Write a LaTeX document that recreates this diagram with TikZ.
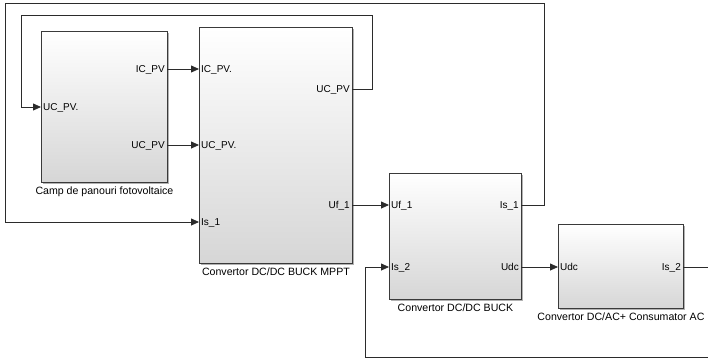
\documentclass[tikz,border=0pt]{standalone}
\usepackage{fontspec}
\setmainfont{Liberation Sans}
\definecolor{blkEdge}{HTML}{3A3A3A}
\definecolor{blkShade}{HTML}{D6D6D6}
\definecolor{wireGray}{HTML}{2B2B2B}
\usepackage{tikz}
\usetikzlibrary{positioning,arrows.meta,shadows}

\begin{document}
\begin{tikzpicture}[x=1pt,y=-1pt,font=\fontsize{10}{12}\selectfont,
  block/.style={draw=blkEdge, line width=0.9pt, anchor=north west, top color=white, middle color=white, bottom color=blkShade,
    drop shadow={shadow xshift=2pt, shadow yshift=-2pt, fill=black, opacity=0.3}},
  inport/.style={anchor=west, inner xsep=2pt, inner ysep=0pt, text height=7pt, text depth=0pt},
  outport/.style={anchor=east, inner xsep=2pt, inner ysep=0pt, text height=7pt, text depth=0pt},
  caption/.style={inner sep=1pt, font=\fontsize{10.6}{12}\selectfont},
  sig/.style={draw=wireGray, line width=0.8pt, -{Triangle[length=8pt,width=7pt]}}]
\useasboundingbox (0,0) rectangle (708,359);
% blocks
\node[block, minimum width=126pt, minimum height=151pt] (pv) at (41,31) {};
\node[block, minimum width=153pt, minimum height=236pt] (mppt) at (199,27) {};
\node[block, minimum width=132pt, minimum height=126pt] (buck) at (389,173) {};
\node[block, minimum width=125pt, minimum height=84pt] (acload) at (558,224) {};
% block names
\node[caption, below=3pt of pv] (pvname) {Camp de panouri fotovoltaice};
\node[caption, below=3pt of mppt] (mpptname) {Convertor DC/DC BUCK MPPT};
\node[caption, below=3pt of buck] (buckname) {Convertor DC/DC BUCK};
\node[caption, below=3pt of acload] (acloadname) {Convertor DC/AC+ Consumator AC};
% ports
\node[inport] (pUCi) at (41,107) {UC\_PV.};
\node[outport] (pICo) at (167,69) {IC\_PV};
\node[outport] (pUCo) at (167,145) {UC\_PV};
\node[inport] (mICi) at (199,69) {IC\_PV.};
\node[inport] (mUCi) at (199,145) {UC\_PV.};
\node[inport] (mIsi) at (199,222) {Is\_1};
\node[outport] (mUCo) at (352,89) {UC\_PV};
\node[outport] (mUfo) at (352,205) {Uf\_1};
\node[inport] (bUfi) at (389,205) {Uf\_1};
\node[inport] (bIsi) at (389,267) {Is\_2};
\node[outport] (bIso) at (521,205) {Is\_1};
\node[outport] (bUdco) at (521,267) {Udc};
\node[inport] (aUdci) at (558,267) {Udc};
\node[outport] (aIso) at (683,267) {Is\_2};
% signals
\draw[sig] (pICo.east) -- (mICi.west);
\draw[sig] (pUCo.east) -- (mUCi.west);
\draw[sig] (mUfo.east) -- (bUfi.west);
\draw[sig] (bUdco.east) -- (aUdci.west);
% feedback loops
\draw[sig] (mUCo.east) -| (372,15) -| ([xshift=-20pt]pUCi.west) -- (pUCi.west);
\draw[sig] (bIso.east) -| (544,3) -| ([xshift=-194pt]mIsi.west) -- (mIsi.west);
\draw[sig] (aIso.east) -- (716,267) |- (365,357) |- (bIsi.west);
\end{tikzpicture}
\end{document}
